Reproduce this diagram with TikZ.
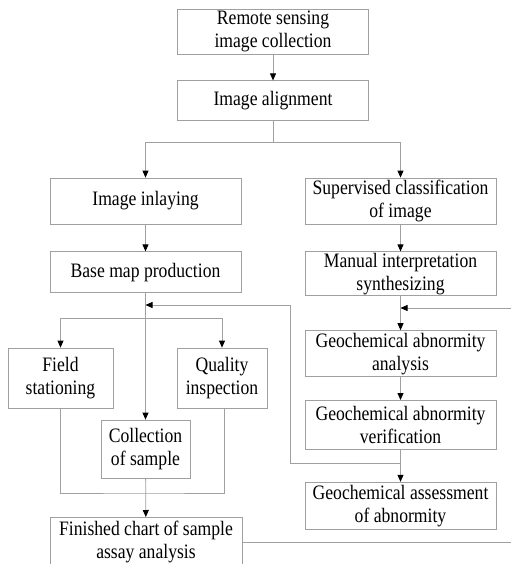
\documentclass[tikz,border=0pt]{standalone}
\usepackage{fontspec}
\setmainfont[FakeStretch=0.86]{Liberation Serif}
\usetikzlibrary{positioning,arrows.meta}
\definecolor{linegray}{RGB}{160,160,160}

\begin{document}
\begin{tikzpicture}[x=1pt,y=-1pt,
  box/.style={draw=linegray,line width=0.8pt,align=center,inner sep=0pt,minimum width=191pt,font=\fontsize{20.5}{23}\selectfont},
  line/.style={draw=linegray,line width=0.8pt},
  arr/.style={line,-{Triangle[length=7pt,width=6pt,color=black]}}]

\useasboundingbox (0,0) rectangle (511,564);

% upper chain
\node [box,minimum height=45pt] (remote) at (273,31.5) {Remote sensing\\image collection};
\node [box,minimum height=40pt,below=26pt of remote] (align) {Image alignment};
\node [box,minimum height=46pt] (inlay) at (145.5,201) {Image inlaying};
\node [box,minimum height=46pt] (superv) at (400.5,201) {Supervised classification\\of image};
\node [box,minimum height=41pt,below=27pt of inlay] (basemap) {Base map production};
\node [box,minimum height=44pt,below=27pt of superv] (manual) {Manual interpretation\\synthesizing};

% left branch
\node [box,minimum width=105pt,minimum height=60pt] (field) at (60.5,378) {Field\\stationing};
\node [box,minimum width=90pt,minimum height=60pt] (quality) at (222,378) {Quality\\inspection};
\node [box,minimum width=89pt,minimum height=58pt] (collect) at (145.5,449) {Collection\\of sample};
\node [box,minimum width=192pt,anchor=north,inner ysep=4pt,text depth=30pt] (finished) at (146,517) {Finished chart of sample\\assay analysis};

% right branch
\node [box,minimum height=46pt,below=34pt of manual] (geoana) {Geochemical abnormity\\analysis};
\node [box,minimum height=49pt,below=23pt of geoana] (verif) {Geochemical abnormity\\verification};
\node [box,minimum height=47pt,below=32pt of verif] (assess) {Geochemical assessment\\of abnormity};

\coordinate (split1) at (273,142);
\coordinate (split2) at (145.5,318);
\coordinate (join) at (145.5,493);
\coordinate (back) at (290,463);
\coordinate (backtop) at (290,305);
\coordinate (in) at (511,308);
\coordinate (out) at (511,542);

\draw [arr] (remote) -- (align);
\draw [line] (align) -- (split1);
\draw [arr] (split1) -| (inlay);
\draw [arr] (split1) -| (superv);
\draw [arr] (inlay) -- (basemap);
\draw [arr] (superv) -- (manual);

\draw [arr] (basemap) -- (collect);
\draw [arr] (split2) -| (field);
\draw [arr] (split2) -| (quality);
\draw [line] (field) |- (join) -| (quality.south -| 224,0);
\draw [arr] (collect) -- (finished);
\draw [line] (finished.east |- out) -- (out);

\draw [arr] (manual) -- (geoana);
\draw [arr] (in) -- (in -| manual.south);
\draw [arr] (geoana) -- (verif);
\draw [arr] (verif) -- (assess);
\draw [arr] (verif.south |- back) -- (back) -- (backtop) -- (basemap.south |- backtop);

\end{tikzpicture}
\end{document}
